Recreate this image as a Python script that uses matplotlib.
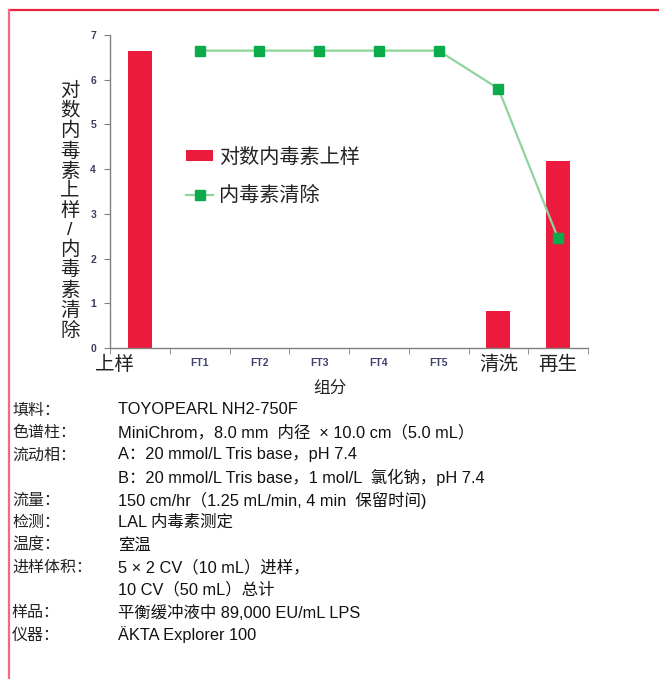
#Endotoxin removal chart

#Importing the libraries
import matplotlib
matplotlib.use('Agg')
import matplotlib.pyplot as plt
from matplotlib.lines import Line2D
from matplotlib.transforms import ScaledTranslation

plt.rcParams['font.family'] = ['Liberation Sans', 'Noto Sans CJK SC', 'DejaVu Sans']

#Data
categories = ['上样', 'FT1', 'FT2', 'FT3', 'FT4', 'FT5', '清洗', '再生']
bar_values = [6.65, 0, 0, 0, 0, 0, 0.83, 4.18]
clear_values = [None, 6.65, 6.65, 6.65, 6.65, 6.65, 5.8, 2.45]
y_ticks = [0, 1, 2, 3, 4, 5, 6, 7]
y_label = '对数内毒素上样/内毒素清除'
x_label = '组分'
legend_labels = ['对数内毒素上样', '内毒素清除']

info_keys = ['填料：', '色谱柱：', '流动相：', '', '流量：', '检测：', '温度：',
             '进样体积：', '', '样品：', '仪器：']
info_values = ['TOYOPEARL NH2-750F',
               'MiniChrom，8.0 mm  内径  × 10.0 cm（5.0 mL）',
               'A：20 mmol/L Tris base，pH 7.4',
               'B：20 mmol/L Tris base，1 mol/L  氯化钠，pH 7.4',
               '150 cm/hr（1.25 mL/min, 4 min  保留时间)',
               'LAL 内毒素测定',
               '室温',
               '5 × 2 CV（10 mL）进样，',
               '10 CV（50 mL）总计',
               '平衡缓冲液中 89,000 EU/mL LPS',
               'ÄKTA Explorer 100']

W, H = 659, 679
fig = plt.figure(figsize=(W / 100, H / 100), dpi=100)
ax = fig.add_axes([110 / W, 1 - 348 / H, (588 - 110) / W, (348 - 35) / H])

#Bars and line
x = list(range(len(categories)))
bar_x = [i for i, v in zip(x, bar_values) if v > 0]
bar_h = [v for v in bar_values if v > 0]
bars = ax.bar(bar_x, bar_h, width=0.4, color='#ec1b3d', label=legend_labels[0])
line_x = [i for i, v in zip(x, clear_values) if v is not None]
line_y = [v for v in clear_values if v is not None]
line, = ax.plot(line_x, line_y, color='#8fd49b', lw=1.6, marker='s', ms=7,
                mfc='#0bab4b', mec='#0bab4b', label=legend_labels[1])

ax.set_xlim(-0.5, 7.5)
ax.set_ylim(0, 7)
for s in ['top', 'right']:
    ax.spines[s].set_visible(False)
for s in ['left', 'bottom']:
    ax.spines[s].set_color('#808080')
    ax.spines[s].set_linewidth(1.0)

ax.set_yticks(y_ticks)
ax.set_yticklabels([str(t) for t in y_ticks], fontsize=7.5, fontweight='bold',
                   color='#3c3c5c')
ax.tick_params(axis='y', length=4, color='#808080', pad=6)

ax.set_xticks(x)
ax.set_xticklabels(categories)
ax.set_xticks([i - 0.5 for i in range(len(categories) + 1)], minor=True)
ax.tick_params(axis='x', which='major', length=0, pad=7)
ax.tick_params(axis='x', which='minor', length=4, color='#808080')
for i, lab in enumerate(ax.get_xticklabels()):
    if categories[i].startswith('FT'):
        lab.set_fontsize(7.5)
        lab.set_fontweight('bold')
        lab.set_color('#404070')
    else:
        lab.set_fontsize(14)
        lab.set_family(['Noto Sans CJK SC'])
        lab.set_color('#222222')
        lab.set_transform(lab.get_transform() + ScaledTranslation(0, 0.04, fig.dpi_scale_trans))
    if i == 0:
        lab.set_transform(lab.get_transform() + ScaledTranslation(-0.25, 0, fig.dpi_scale_trans))

#Legend (bar first, then line)
leg = ax.legend([bars, line], legend_labels, loc='upper left',
                bbox_to_anchor=(178 / W, 1 - 140 / H),
                bbox_transform=fig.transFigure, frameon=False, fontsize=14.5,
                handlelength=1.35, handleheight=0.45, handletextpad=0.3,
                labelspacing=0.95, borderaxespad=0)
for t in leg.get_texts():
    t.set_color('#222222')

#Labels
fig.text(70 / W, 1 - 211 / H, '\n'.join(y_label), ha='center', va='center',
         fontsize=14, linespacing=1.14, color='#222222')
fig.text(330 / W, 1 - 388 / H, x_label, ha='center', va='center',
         fontsize=12, color='#222222')

#Info block
for k, (key, val) in enumerate(zip(info_keys, info_values)):
    y = 1 - (410 + 22.5 * k) / H
    if key:
        fig.text(12 / W, y, key, ha='left', va='center', fontsize=11.5,
                 color='#222222')
    fig.text(118 / W, y, val, ha='left', va='center', fontsize=11.8,
             color='#111111')

#Frame lines
fig.add_artist(Line2D([9 / W, 1], [1 - 10 / H, 1 - 10 / H], transform=fig.transFigure,
                      color='#ea2340', lw=1.6))
fig.add_artist(Line2D([9 / W, 9 / W], [1 - 10 / H, 0], transform=fig.transFigure,
                      color='#f06a80', lw=1.6))

fig.savefig('out.png', dpi=100)
